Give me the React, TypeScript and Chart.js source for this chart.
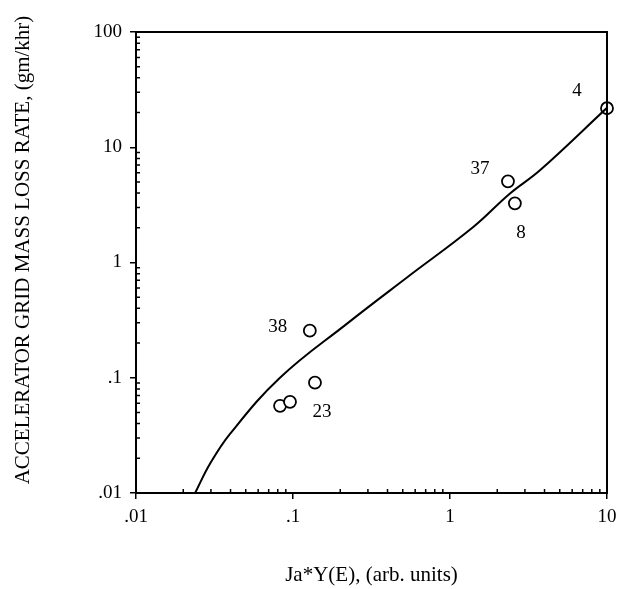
import React, { useEffect, useRef } from "react";
import { Chart, registerables } from "chart.js";

Chart.register(...registerables);

// Fitted curve (Ja*Y(E) vs. mass loss rate)
const curveX = [0.0238, 0.0296, 0.0397, 0.0826, 0.221, 0.532, 1.4, 2.4, 3.74, 10];
const curveY = [0.01, 0.0179, 0.0326, 0.1, 0.295, 0.741, 2.02, 3.95, 6.31, 22.0];

// Measured points
const pointX = [10, 2.34, 2.59, 0.128, 0.138, 0.0827, 0.0957];
const pointY = [21.8, 5.06, 3.26, 0.256, 0.0906, 0.0571, 0.0618];
const pointNames = ["4", "37", "8", "38", "23", "", ""];

const xTicks = [0.01, 0.1, 1, 10];
const yTicks = [0.01, 0.1, 1, 10, 100];
const tickLabel = (v: number) => (v >= 1 ? String(v) : String(v).replace(/^0/, ""));

const xTitle = "Ja*Y(E), (arb. units)";
const yTitle = "ACCELERATOR GRID MASS LOSS RATE, (gm/khr)";

const FONT = "'Liberation Serif', 'DejaVu Serif', serif";

const labelOffsets = [
  [-30, -17],
  [-28, -12],
  [6, 30],
  [-32, -4],
  [7, 29],
  [0, 0],
  [0, 0],
];

const decorPlugin = {
  id: "decor",
  afterDraw(chart: any) {
    const { ctx, chartArea: a, scales } = chart;
    const xs = scales.x;
    const ys = scales.y;
    ctx.save();
    // box
    ctx.strokeStyle = "#000";
    ctx.lineWidth = 2;
    ctx.strokeRect(a.left, a.top, a.right - a.left, a.bottom - a.top);
    // minor ticks
    ctx.lineWidth = 1.5;
    ctx.beginPath();
    for (let d = 0.01; d < 10; d *= 10) {
      for (let m = 2; m <= 9; m++) {
        const px = xs.getPixelForValue(d * m);
        ctx.moveTo(px, a.bottom);
        ctx.lineTo(px, a.bottom - 4);
      }
    }
    for (let d = 0.01; d < 100; d *= 10) {
      for (let m = 2; m <= 9; m++) {
        const py = ys.getPixelForValue(d * m);
        ctx.moveTo(a.left, py);
        ctx.lineTo(a.left + 4, py);
      }
    }
    ctx.stroke();
    // point labels
    ctx.fillStyle = "#000";
    ctx.font = `19px ${FONT}`;
    ctx.textAlign = "center";
    ctx.textBaseline = "middle";
    const meta = chart.getDatasetMeta(1);
    meta.data.forEach((el: any, i: number) => {
      if (!pointNames[i]) return;
      ctx.fillText(pointNames[i], el.x + labelOffsets[i][0], el.y + labelOffsets[i][1]);
    });
    // axis titles
    ctx.font = `21px ${FONT}`;
    ctx.fillText(xTitle, (a.left + a.right) / 2, 575);
    ctx.translate(23, 250);
    ctx.rotate(-Math.PI / 2);
    ctx.font = `21px ${FONT}`;
    ctx.fillText(yTitle, 0, 0);
    ctx.restore();
  },
};

export default function App() {
  const ref = useRef<HTMLCanvasElement | null>(null);
  useEffect(() => {
    if (!ref.current) return;
    const chart = new Chart(ref.current, {
      type: "scatter",
      data: {
        datasets: [
          {
            data: curveX.map((x, i) => ({ x, y: curveY[i] })),
            showLine: true,
            borderColor: "#000",
            borderWidth: 2,
            pointRadius: 0,
            tension: 0.4,
          },
          {
            data: pointX.map((x, i) => ({ x, y: pointY[i] })),
            pointRadius: 6,
            pointBorderWidth: 1.8,
            pointBorderColor: "#000",
            pointBackgroundColor: "#fff",
            clip: false,
          },
        ],
      },
      options: {
        animation: false,
        responsive: false,
        layout: { padding: { left: 0, top: 32, right: 18, bottom: 0 } },
        plugins: { legend: { display: false }, tooltip: { enabled: false } },
        scales: {
          x: {
            type: "logarithmic",
            min: 0.01,
            max: 10,
            afterBuildTicks: (s: any) => {
              s.ticks = xTicks.map((v) => ({ value: v, major: true }));
            },
            afterFit: (s: any) => {
              s.height = 96;
            },
            ticks: {
              callback: (v: any) => tickLabel(Number(v)),
              color: "#000",
              font: { family: FONT, size: 19 },
              padding: 7,
              maxRotation: 0,
              autoSkip: false,
            },
            grid: { display: true, drawOnChartArea: false, drawTicks: true, tickLength: 6, color: "#000", lineWidth: 1.5 },
            border: { display: true, color: "#000", width: 2 },
          },
          y: {
            type: "logarithmic",
            min: 0.01,
            max: 100,
            afterBuildTicks: (s: any) => {
              s.ticks = yTicks.map((v) => ({ value: v, major: true }));
            },
            afterFit: (s: any) => {
              s.width = 136;
            },
            ticks: {
              callback: (v: any) => tickLabel(Number(v)),
              color: "#000",
              font: { family: FONT, size: 19 },
              padding: 8,
              autoSkip: false,
            },
            grid: { display: true, drawOnChartArea: false, drawTicks: true, tickLength: 6, color: "#000", lineWidth: 1.5 },
            border: { display: true, color: "#000", width: 2 },
          },
        },
      },
      plugins: [decorPlugin],
    } as any);
    return () => chart.destroy();
  }, []);
  return (
    <div style={{ position: "absolute", left: 0, top: 0, width: 625, height: 589, background: "#fff" }}>
      <canvas ref={ref} width={625} height={589} style={{ width: 625, height: 589, display: "block" }} />
    </div>
  );
}
